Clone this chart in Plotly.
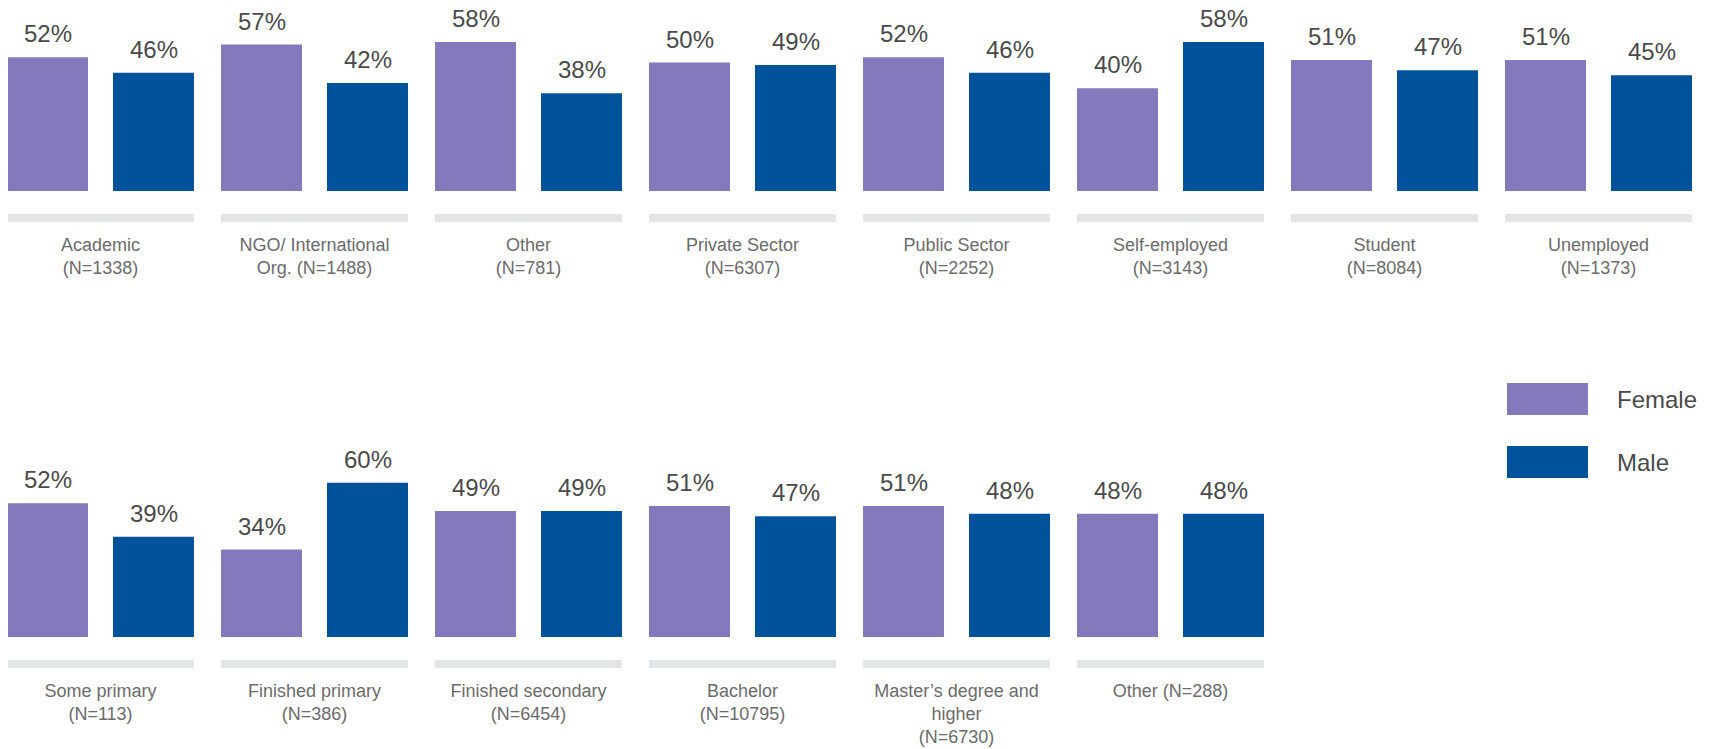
import plotly.graph_objects as go

# ---- data ----
occ_labels = ["Academic<br>(N=1338)", "NGO/ International<br>Org. (N=1488)", "Other<br>(N=781)",
              "Private Sector<br>(N=6307)", "Public Sector<br>(N=2252)", "Self-employed<br>(N=3143)",
              "Student<br>(N=8084)", "Unemployed<br>(N=1373)"]
occ_female = [52, 57, 58, 50, 52, 40, 51, 51]
occ_male = [46, 42, 38, 49, 46, 58, 47, 45]

edu_labels = ["Some primary<br>(N=113)", "Finished primary<br>(N=386)", "Finished secondary<br>(N=6454)",
              "Bachelor<br>(N=10795)", "Master’s degree and<br>higher<br>(N=6730)", "Other (N=288)"]
edu_female = [52, 34, 49, 51, 51, 48]
edu_male = [39, 60, 49, 47, 48, 48]

series_names = ["Female", "Male"]
colors = ["#8479BC", "#00529B"]

# the page body adds an 8px margin, so the figure sits at (8, 8) in the window
OFF = 8
W, H = 1710, 749
PX_PER_PCT = 2.57
GROUP_PX = 214.0
FIRST_CENTER_PX = 100.5 - OFF
x0 = -FIRST_CENTER_PX / GROUP_PX
x1 = x0 + W / GROUP_PX

FONT = "Liberation Sans, Arial, sans-serif"

fig = go.Figure()

rows = [
    (occ_labels, occ_female, occ_male, "x", "y"),
    (edu_labels, edu_female, edu_male, "x2", "y2"),
]
for labels, fem, mal, xa, ya in rows:
    for name, vals, col in zip(series_names, [fem, mal], colors):
        fig.add_trace(go.Bar(x=labels, y=vals, name=name, marker_color=col,
                             marker_line_width=0, xaxis=xa, yaxis=ya, showlegend=False))

# axis pixel geometry (figure pixels)
top_zero_px, top_top_px = 191 - OFF, 0
bot_zero_px, bot_top_px = 637 - OFF, 440 - OFF


def py(p):
    return 1 - p / H


label_font = dict(family=FONT, size=18, color="#6b6b6b")
common_x = dict(type="category", range=[x0, x1], showgrid=False, zeroline=False, showline=False,
                ticks="outside", ticklen=37, tickcolor="rgba(0,0,0,0)", tickfont=label_font,
                fixedrange=True)
fig.update_layout(
    xaxis=dict(domain=[0, 1], anchor="y", **common_x),
    yaxis=dict(domain=[py(top_zero_px), py(top_top_px)],
               range=[0, (top_zero_px - top_top_px) / PX_PER_PCT], visible=False),
    xaxis2=dict(domain=[0, 1], anchor="y2", **common_x),
    yaxis2=dict(domain=[py(bot_zero_px), py(bot_top_px)],
                range=[0, (bot_zero_px - bot_top_px) / PX_PER_PCT], visible=False),
    barmode="group",
    bargap=0.0093,
    bargroupgap=0.236,
    width=W, height=H,
    margin=dict(l=0, r=0, t=0, b=0),
    paper_bgcolor="white", plot_bgcolor="white",
)

# value labels and gray bands
half_band = 93.5 / GROUP_PX
annotations = []
shapes = []
for labels, fem, mal, xa, ya, zero_px in [
    (occ_labels, occ_female, occ_male, "x", "y", top_zero_px),
    (edu_labels, edu_female, edu_male, "x2", "y2", bot_zero_px),
]:
    for i, lab in enumerate(labels):
        for vals, shift in [(fem, -53), (mal, 53)]:
            annotations.append(dict(x=lab, y=vals[i], xref=xa, yref=ya, text=f"{vals[i]}%",
                                    showarrow=False, yanchor="bottom", xshift=shift, yshift=8,
                                    font=dict(family=FONT, size=24, color="#4a4a4a")))
        shapes.append(dict(type="rect", xref=xa, yref="paper", x0=i - half_band, x1=i + half_band,
                           y0=py(zero_px + 31), y1=py(zero_px + 23),
                           fillcolor="#E3E4E5", line_width=0, layer="below"))

# legend (drawn manually)
for name, col, cy in zip(series_names, colors, [399 - OFF, 462 - OFF]):
    shapes.append(dict(type="rect", xref="paper", yref="paper", x0=(1507 - OFF) / W, x1=(1588 - OFF) / W,
                       y0=py(cy + 16), y1=py(cy - 16), fillcolor=col, line_width=0))
    annotations.append(dict(x=(1615 - OFF) / W, y=py(cy), xref="paper", yref="paper", text=name,
                            showarrow=False, xanchor="left", yanchor="middle",
                            font=dict(family=FONT, size=24, color="#4a4a4a")))

fig.update_layout(annotations=annotations, shapes=shapes)
fig.write_html("out.html")
